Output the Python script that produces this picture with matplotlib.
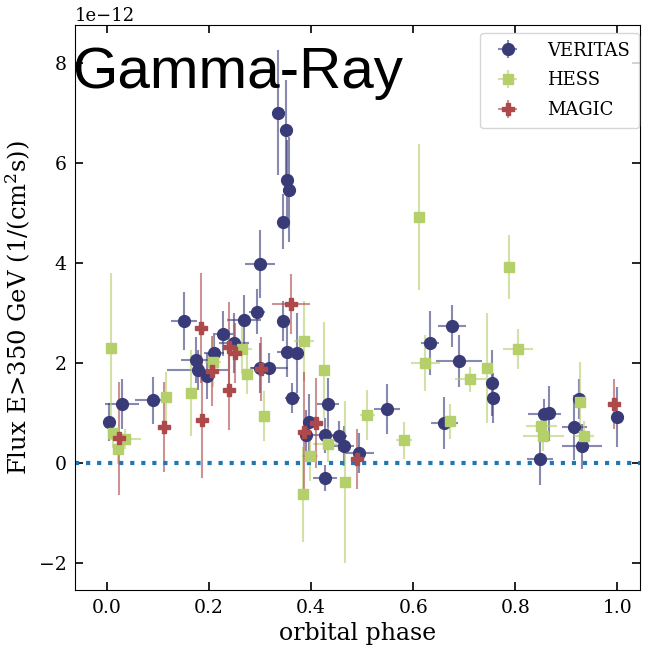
import numpy as np
import matplotlib
matplotlib.use("Agg")
import matplotlib.pyplot as plt

# VERITAS
ver_phase = [0.004, 0.029, 0.090, 0.151, 0.175, 0.178, 0.196, 0.210, 0.227, 0.249,
             0.269, 0.294, 0.300, 0.300, 0.318, 0.335, 0.345, 0.345, 0.351, 0.353,
             0.357, 0.353, 0.373, 0.363, 0.396, 0.390, 0.433, 0.427, 0.427, 0.455,
             0.465, 0.494, 0.549, 0.661, 0.633, 0.676, 0.690, 0.755, 0.757, 0.857,
             0.867, 0.849, 0.916, 0.924, 0.931, 1.000]
ver_phase_err = [0.005, 0.033, 0.035, 0.025, 0.030, 0.060, 0.010, 0.020, 0.020, 0.030,
                 0.033, 0.015, 0.030, 0.020, 0.036, 0.005, 0.005, 0.010, 0.005, 0.005,
                 0.005, 0.020, 0.010, 0.015, 0.010, 0.010, 0.022, 0.040, 0.024, 0.015,
                 0.020, 0.030, 0.025, 0.027, 0.018, 0.028, 0.045, 0.005, 0.005, 0.032,
                 0.010, 0.026, 0.024, 0.005, 0.040, 0.005]
ver_flux = [0.82, 1.18, 1.26, 2.84, 2.06, 1.86, 1.74, 2.20, 2.58, 2.40,
            2.86, 3.02, 3.98, 1.90, 1.90, 7.00, 4.82, 2.84, 6.66, 5.66,
            5.46, 2.22, 2.20, 1.30, 0.82, 0.56, 1.18, 0.56, -0.30, 0.54,
            0.34, 0.20, 1.08, 0.80, 2.40, 2.74, 2.04, 1.60, 1.30, 0.98,
            1.00, 0.08, 0.72, 1.28, 0.34, 0.92]
ver_flux_err = [0.38, 0.50, 0.47, 0.58, 0.45, 0.40, 0.45, 0.35, 0.45, 0.60,
                0.50, 0.45, 0.68, 0.50, 0.30, 1.25, 0.55, 0.40, 1.00, 0.80,
                1.05, 0.50, 0.80, 0.30, 0.57, 0.50, 0.53, 0.35, 0.26, 0.30,
                0.40, 0.40, 0.50, 0.52, 0.63, 0.42, 0.52, 0.65, 0.50, 0.30,
                0.55, 0.52, 0.65, 0.40, 0.45, 0.60]

# HESS
hess_phase = [0.008, 0.012, 0.022, 0.035, 0.116, 0.165, 0.208, 0.265, 0.275, 0.308,
              0.386, 0.425, 0.433, 0.398, 0.384, 0.467, 0.510, 0.582, 0.624, 0.673,
              0.712, 0.745, 0.612, 0.788, 0.806, 0.851, 0.855, 0.927, 0.935]
hess_phase_err = [0.005, 0.010, 0.010, 0.031, 0.005, 0.010, 0.015, 0.020, 0.010, 0.005,
                  0.020, 0.010, 0.030, 0.015, 0.005, 0.005, 0.015, 0.015, 0.029, 0.010,
                  0.030, 0.010, 0.010, 0.010, 0.029, 0.030, 0.040, 0.010, 0.020]
hess_flux = [2.30, 0.60, 0.28, 0.48, 1.32, 1.40, 2.02, 2.28, 1.78, 0.94,
             2.44, 1.86, 0.38, 0.14, -0.62, -0.38, 0.96, 0.46, 2.00, 0.84,
             1.68, 1.90, 4.92, 3.92, 2.28, 0.74, 0.54, 1.22, 0.54]
hess_flux_err = [1.50, 0.30, 0.30, 0.20, 0.50, 0.85, 0.50, 0.50, 0.40, 0.50,
                 0.80, 0.96, 0.35, 0.50, 0.95, 1.62, 0.50, 0.37, 0.56, 0.35,
                 0.25, 1.10, 1.46, 0.64, 0.39, 0.30, 0.30, 0.80, 0.30]

# MAGIC
mag_phase = [0.024, 0.112, 0.184, 0.186, 0.206, 0.239, 0.239, 0.251, 0.302, 0.361,
             0.386, 0.410, 0.490, 0.994]
mag_phase_err = [0.005, 0.005, 0.005, 0.005, 0.010, 0.005, 0.010, 0.010, 0.005, 0.037,
                 0.005, 0.010, 0.005, 0.010]
mag_flux = [0.50, 0.72, 2.70, 0.86, 1.84, 1.46, 2.32, 2.20, 1.88, 3.18,
            0.62, 0.80, 0.08, 1.18]
mag_flux_err = [1.13, 0.90, 1.10, 1.15, 0.70, 0.80, 0.90, 0.60, 0.63, 0.60,
                1.20, 0.90, 0.60, 0.50]

scale = 1e-12

plt.rcParams['font.family'] = 'DejaVu Serif'
plt.rcParams['mathtext.fontset'] = 'dejavuserif'

fig = plt.figure(figsize=(6.56, 6.5), dpi=100)
ax = fig.add_axes([0.114, 0.092, 0.862, 0.870])

series = [
    ('VERITAS', ver_phase, ver_phase_err, ver_flux, ver_flux_err, '#393b79', 'o', 8.5),
    ('HESS', hess_phase, hess_phase_err, hess_flux, hess_flux_err, '#b5cf6b', 's', 7.5),
    ('MAGIC', mag_phase, mag_phase_err, mag_flux, mag_flux_err, '#ad494a', 'P', 8.5),
]
for name, x, xe, y, ye, c, m, ms in series:
    cont = ax.errorbar(x, np.array(y) * scale, xerr=xe, yerr=np.array(ye) * scale,
                       fmt=m, color=c, ms=ms, elinewidth=1.5, capsize=0,
                       label=name)
    for lc in cont[2]:
        lc.set_alpha(0.6)

ax.axhline(0, ls=':', color='#1f77b4', lw=3)

ax.set_xlim(-0.063, 1.045)
ax.set_ylim(-2.54e-12, 8.76e-12)
ax.set_xticks([0.0, 0.2, 0.4, 0.6, 0.8, 1.0])
ax.set_yticks(np.array([-2, 0, 2, 4, 6, 8]) * scale)
ax.tick_params(direction='in', top=True, right=True, labelsize=13.5, length=6, width=1.2,
               pad=6)
ax.yaxis.get_offset_text().set_fontsize(13)
ax.set_xlabel('orbital phase', fontsize=17)
ax.set_ylabel(r'Flux E>350 GeV (1/(cm$^2$s))', fontsize=17.5)

ax.legend(loc='upper right', bbox_to_anchor=(0.998, 0.986), borderaxespad=0,
          fontsize=13, handletextpad=1.2, borderpad=0.5, labelspacing=0.65)

fig.text(0.110, 0.8646, 'Gamma-Ray', fontsize=42, family='Liberation Sans',
         va='baseline', ha='left')

fig.savefig('out.png', dpi=100)
